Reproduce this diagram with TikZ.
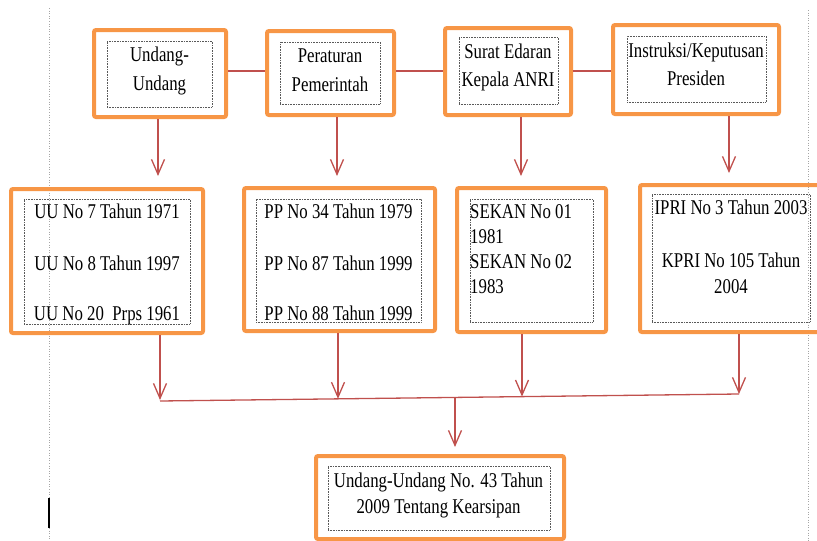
\documentclass[tikz,border=0pt]{standalone}
\usepackage{fontspec}
\setmainfont{Liberation Serif}[FakeStretch=0.8]
\usetikzlibrary{arrows.meta}
\definecolor{boxorange}{HTML}{F79646}
\definecolor{linkred}{HTML}{C0504D}
\tikzset{
  obox/.style={draw=boxorange, line width=4pt, rounded corners=2pt, inner sep=0pt, fill=none},
  ibox/.style={draw=black!65, line width=0.6pt, densely dotted, inner sep=0pt},
  txt/.style={anchor=base, inner sep=0pt, font=\fontsize{21}{25}\selectfont},
  txtl/.style={anchor=base west, inner sep=0pt, font=\fontsize{21}{25}\selectfont},
  link/.style={draw=linkred, line width=1.3pt},
  arr/.style={draw=linkred, line width=1.3pt, -{Straight Barb[length=15pt,width=13pt,line width=1.3pt]}},
  side/.style={draw=black!35, line width=0.6pt, dotted}
}
\begin{document}
\begin{tikzpicture}[x=1pt,y=-1pt]
\useasboundingbox (0,0) rectangle (817,541);
\clip (0,0) rectangle (817,541);
% side guide lines
\draw[side] (49,8) -- (49,541);
\draw[side] (808,10) -- (808,541);
\draw[line width=1.3pt, black] (49,498) -- (49,528);
% top row
\node[obox, minimum width=132pt, minimum height=87pt] (B1) at (160,73.5) {};
\node[ibox, minimum width=105pt, minimum height=66pt] (I1) at (159.5,74) {};
\node[txt] (t1a) at (159.5,61) {Undang-};
\node[txt] (t1b) at (159.5,90) {Undang};
\node[obox, minimum width=127pt, minimum height=84pt] (B2) at (330.5,73) {};
\node[ibox, minimum width=100pt, minimum height=62pt] (I2) at (330,73) {};
\node[txt] (t2a) at (330,62) {Peraturan};
\node[txt] (t2b) at (330,91) {Pemerintah};
\node[obox, minimum width=126pt, minimum height=87pt] (B3) at (508,71.5) {};
\node[ibox, minimum width=99pt, minimum height=67pt] (I3) at (508.5,70.5) {};
\node[txt] (t3a) at (508,58) {Surat Edaran};
\node[txt] (t3b) at (508,86) {Kepala ANRI};
\node[obox, minimum width=166pt, minimum height=89pt] (B4) at (696,69.5) {};
\node[ibox, minimum width=139pt, minimum height=66pt] (I4) at (696.5,69) {};
\node[txt] (t4a) at (696,57) {Instruksi/Keputusan};
\node[txt] (t4b) at (696,85) {Presiden};
% top connectors
\draw[link] (B1.east|-0,71) -- (B2.west|-0,71);
\draw[link] (B2.east|-0,71) -- (B3.west|-0,71);
\draw[link] (B3.east|-0,71) -- (B4.west|-0,71);
% second row
\node[obox, minimum width=192pt, minimum height=144pt] (C1) at (107,261) {};
\node[ibox, minimum width=166pt, minimum height=125pt] (J1) at (107,261.5) {};
\node[txt] (u1a) at (107,218) {UU No 7 Tahun 1971};
\node[txt] (u1b) at (107,270) {UU No 8 Tahun 1997};
\node[txt] (u1c) at (107,320) {UU No 20\ \ Prps 1961};
\node[obox, minimum width=191pt, minimum height=143pt] (C2) at (339.5,259.5) {};
\node[ibox, minimum width=165pt, minimum height=123pt] (J2) at (338.5,260.5) {};
\node[txt] (u2a) at (338.5,218) {PP No 34 Tahun 1979};
\node[txt] (u2b) at (338.5,270) {PP No 87 Tahun 1999};
\node[txt] (u2c) at (338.5,320) {PP No 88 Tahun 1999};
\node[obox, minimum width=149pt, minimum height=144pt] (C3) at (531.5,260) {};
\node[ibox, minimum width=123pt, minimum height=123pt] (J3) at (531.5,260.5) {};
\node[txtl] (u3a) at (470,218) {SEKAN No 01};
\node[txtl] (u3b) at (470,243) {1981};
\node[txtl] (u3c) at (470,268) {SEKAN No 02};
\node[txtl] (u3d) at (470,293) {1983};
\node[obox, minimum width=190pt, minimum height=147pt] (C4) at (735,258.5) {};
\node[ibox, minimum width=158pt, minimum height=128pt] (J4) at (731,258) {};
\node[txt] (u4a) at (731,214) {IPRI No 3 Tahun 2003};
\node[txt] (u4b) at (731,267) {KPRI No 105 Tahun};
\node[txt] (u4c) at (731,293) {2004};
% arrows top -> second row
\coordinate (a1) at (158,176);
\coordinate (a2) at (337,176);
\coordinate (a3) at (521,176);
\coordinate (a4) at (729,173);
\draw[arr] (B1.south-|a1) -- (a1);
\draw[arr] (B2.south-|a2) -- (a2);
\draw[arr] (B3.south-|a3) -- (a3);
\draw[arr] (B4.south-|a4) -- (a4);
% collector line
\coordinate (j1) at (160,401);
\coordinate (j4) at (739,394);
\coordinate (p1) at (160,400);
\coordinate (p2) at (338,398.8);
\coordinate (p3) at (522,396.6);
\coordinate (p4) at (739,394);
\draw[arr] (C1.south-|p1) -- (p1);
\draw[arr] (C2.south-|p2) -- (p2);
\draw[arr] (C3.south-|p3) -- (p3);
\draw[arr] (C4.south-|p4) -- (p4);
\draw[link] (j1) -- (j4);
% bottom
\coordinate (m) at (455,397.7);
\coordinate (q) at (455,447);
\draw[arr] (m) -- (q);
\node[obox, minimum width=248pt, minimum height=83pt] (D) at (440,497.5) {};
\node[ibox, minimum width=222pt, minimum height=64pt] (K) at (439,498) {};
\node[txt] (da) at (438.5,487) {Undang-Undang No. 43 Tahun};
\node[txt] (db) at (438.5,513) {2009 Tentang Kearsipan};
\end{tikzpicture}
\end{document}
